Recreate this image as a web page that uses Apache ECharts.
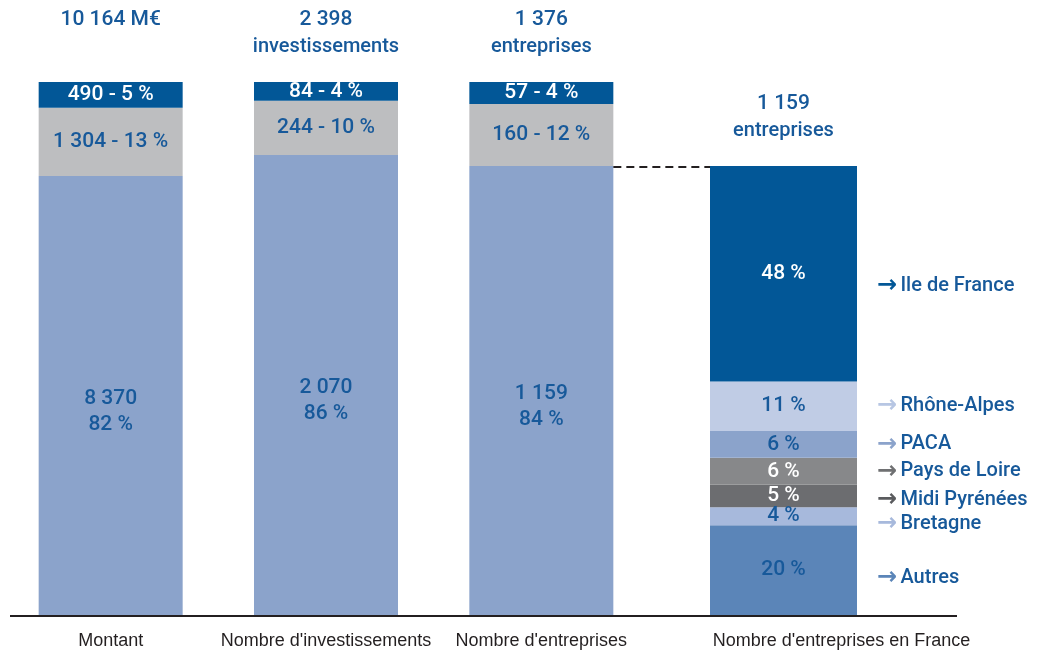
<!DOCTYPE html>
<html>
<head>
<meta charset="utf-8">
<script src="https://cdn.jsdelivr.net/npm/echarts@6/dist/echarts.min.js"></script>
<style>
  html, body { margin: 0; padding: 0; background: #fff; }
  #chart { width: 1044px; height: 653px; }
</style>
</head>
<body>
<div id="chart"></div>
<script>
// ---- data ----
const categories = ['Montant', "Nombre d'investissements", "Nombre d'entreprises"];
const totals = [10164, 2398, 1376];
const totalUnits = [' M€', 'investissements', 'entreprises'];
const baseValues = [8370, 2070, 1159];
const midValues = [1304, 244, 160];
const topValues = [490, 84, 57];

const franceCategory = "Nombre d'entreprises en France";
const franceTotal = 1159;
const franceUnit = 'entreprises';
const regions = ['Ile de France', 'Rhône-Alpes', 'PACA', 'Pays de Loire', 'Midi Pyrénées', 'Bretagne', 'Autres'];
const regionPct = [48, 11, 6, 6, 5, 4, 20];

// ---- styles ----
const FONT = 'Roboto, "Liberation Sans", Arial, sans-serif';
const AXIS_FONT = '"Liberation Sans", Arial, sans-serif';
const WEIGHT = 500;
const BLUE_TEXT = '#17599a';
const WHITE = '#ffffff';
const DARK = '#025797';
const GREY = '#bdbec0';
const LIGHT = '#8ba3cb';
const regionColors = ['#025797', '#c0cce5', '#8ba3cb', '#87888a', '#6c6d70', '#a7b9dc', '#5b85b8'];
const regionTextColors = [WHITE, BLUE_TEXT, BLUE_TEXT, WHITE, WHITE, BLUE_TEXT, BLUE_TEXT];
const regionArrowColors = ['#025797', '#b7c6e3', '#8ba3cb', '#6f7072', '#5a5b5e', '#a7b9dc', '#5b85b8'];
const regionLabelShift = [12, 0, 0, 0, 4, 8, 8];

const fmt = n => String(n).replace(/\B(?=(\d{3})+(?!\d))/g, ' ');
const pct = (v, t) => Math.round(v / t * 100);
const share = (v, t) => v / t * 100;

// heights of each bar normalised to its own total
const baseShare = baseValues.map((v, i) => share(v, totals[i]));
const midShare = midValues.map((v, i) => share(v, totals[i]));
const topShare = topValues.map((v, i) => share(v, totals[i]));
const stackTops = totals.map((t, i) => baseShare[i] + midShare[i] + topShare[i]);

// the France bar has the height of the 1 159 companies segment
const franceShare = share(franceTotal, totals[2]);
const regionShare = regionPct.map(p => p / 100 * franceShare);

const chart = echarts.init(document.getElementById('chart'));

const inLabel = (color, extra) => Object.assign({
  show: true, position: 'inside', color: color,
  fontFamily: FONT, fontWeight: WEIGHT, fontSize: 21, lineHeight: 26
}, extra || {});

const topLabel = {
  show: true, position: ['50%', -76], align: 'center', verticalAlign: 'top',
  color: BLUE_TEXT, fontFamily: FONT, fontWeight: WEIGHT, fontSize: 21, lineHeight: 27,
  rich: {
    n: { color: BLUE_TEXT, fontFamily: FONT, fontWeight: WEIGHT, fontSize: 21, lineHeight: 27 },
    u: { color: BLUE_TEXT, fontFamily: FONT, fontWeight: WEIGHT, fontSize: 20, lineHeight: 27 }
  }
};

// "10 164 M€" keeps its unit on one line, the counts put it underneath
const totalText = (n, unit) => unit.startsWith(' ')
  ? '{n|' + fmt(n) + unit + '}'
  : '{n|' + fmt(n) + '}\n{u|' + unit + '}';

const series = [
  {
    name: 'base', type: 'bar', stack: 'a', xAxisIndex: 0, yAxisIndex: 0,
    barWidth: 144, data: baseShare, itemStyle: { color: LIGHT },
    label: inLabel(BLUE_TEXT, {
      offset: [0, 16],
      formatter: p => fmt(baseValues[p.dataIndex]) + '\n' + pct(baseValues[p.dataIndex], totals[p.dataIndex]) + ' %'
    })
  },
  {
    name: 'mid', type: 'bar', stack: 'a', xAxisIndex: 0, yAxisIndex: 0,
    barWidth: 144, data: midShare, itemStyle: { color: GREY },
    label: inLabel(BLUE_TEXT, {
      formatter: p => fmt(midValues[p.dataIndex]) + ' - ' + pct(midValues[p.dataIndex], totals[p.dataIndex]) + ' %'
    })
  },
  {
    name: 'top', type: 'bar', stack: 'a', xAxisIndex: 0, yAxisIndex: 0,
    barWidth: 144, data: topShare, itemStyle: { color: DARK },
    label: inLabel(WHITE, {
      formatter: p => fmt(topValues[p.dataIndex]) + ' - ' + pct(topValues[p.dataIndex], totals[p.dataIndex]) + ' %'
    })
  },
  {
    name: 'totals', type: 'bar', xAxisIndex: 0, yAxisIndex: 0, silent: true,
    barWidth: 144, barGap: '-100%', data: stackTops,
    itemStyle: { color: 'rgba(0,0,0,0)' },
    label: Object.assign({}, topLabel, {
      formatter: p => totalText(totals[p.dataIndex], totalUnits[p.dataIndex])
    })
  }
];

// France regions, stacked bottom (Autres) to top (Ile de France)
for (let k = regions.length - 1; k >= 0; k--) {
  series.push({
    name: regions[k], type: 'bar', stack: 'fr', xAxisIndex: 1, yAxisIndex: 1,
    barWidth: 147, data: [regionShare[k]], itemStyle: { color: regionColors[k] },
    label: inLabel(regionTextColors[k], { formatter: () => regionPct[k] + ' %' })
  });
}
// region names to the right of the France bar
for (let k = regions.length - 1; k >= 0; k--) {
  series.push({
    name: regions[k] + ' nom', type: 'bar', stack: 'names', xAxisIndex: 1, yAxisIndex: 1,
    silent: true, barWidth: 147, barGap: '-100%', data: [regionShare[k]],
    itemStyle: { color: 'rgba(0,0,0,0)' },
    label: {
      show: true, position: 'right', distance: 20, offset: [0, regionLabelShift[k]],
      formatter: () => '{a|→} {t|' + regions[k] + '}',
      rich: {
        a: { color: regionArrowColors[k], fontFamily: '"DejaVu Sans", sans-serif', fontSize: 24, fontWeight: 'bold' },
        t: { color: BLUE_TEXT, fontFamily: FONT, fontWeight: WEIGHT, fontSize: 20 }
      }
    }
  });
}
series.push({
  name: 'total France', type: 'bar', xAxisIndex: 1, yAxisIndex: 1, silent: true,
  barWidth: 147, barGap: '-100%', data: [franceShare],
  itemStyle: { color: 'rgba(0,0,0,0)' },
  label: Object.assign({}, topLabel, { formatter: () => totalText(franceTotal, franceUnit) })
});

const axisLabel = { fontFamily: AXIS_FONT, fontSize: 18, color: '#231f20', margin: 17, interval: 0 };

chart.setOption({
  animation: false,
  backgroundColor: '#ffffff',
  grid: [
    { left: 3, width: 646, top: 82, bottom: 38 },
    { left: 680, width: 207, top: 82, bottom: 38 }
  ],
  xAxis: [
    { type: 'category', gridIndex: 0, data: categories,
      axisLine: { show: false }, axisTick: { show: false }, axisLabel: axisLabel },
    { type: 'category', gridIndex: 1, data: [franceCategory],
      axisLine: { show: false }, axisTick: { show: false },
      axisLabel: Object.assign({}, axisLabel, { padding: [0, 0, 0, 116] }) }
  ],
  yAxis: [
    { type: 'value', gridIndex: 0, min: 0, max: 100, show: false },
    { type: 'value', gridIndex: 1, min: 0, max: 100, show: false }
  ],
  series: series
});

// baseline and dashed connector, positioned through the axes
const p0 = chart.convertToPixel({ xAxisIndex: 0, yAxisIndex: 0 }, [categories[0], 0]);
const p3 = chart.convertToPixel({ xAxisIndex: 0, yAxisIndex: 0 }, [categories[2], baseShare[2]]);
const p4 = chart.convertToPixel({ xAxisIndex: 1, yAxisIndex: 1 }, [franceCategory, franceShare]);
chart.setOption({
  graphic: [
    { type: 'line', z: 10, shape: { x1: 10, y1: p0[1] + 1, x2: 957, y2: p0[1] + 1 },
      style: { stroke: '#231f20', lineWidth: 2 } },
    { type: 'line', z: 10, shape: { x1: p3[0] + 72, y1: p3[1] + 1, x2: p4[0] - 73.5, y2: p3[1] + 1 },
      style: { stroke: '#231f20', lineWidth: 2, lineDash: [8, 5] } }
  ]
});
</script>
</body>
</html>
